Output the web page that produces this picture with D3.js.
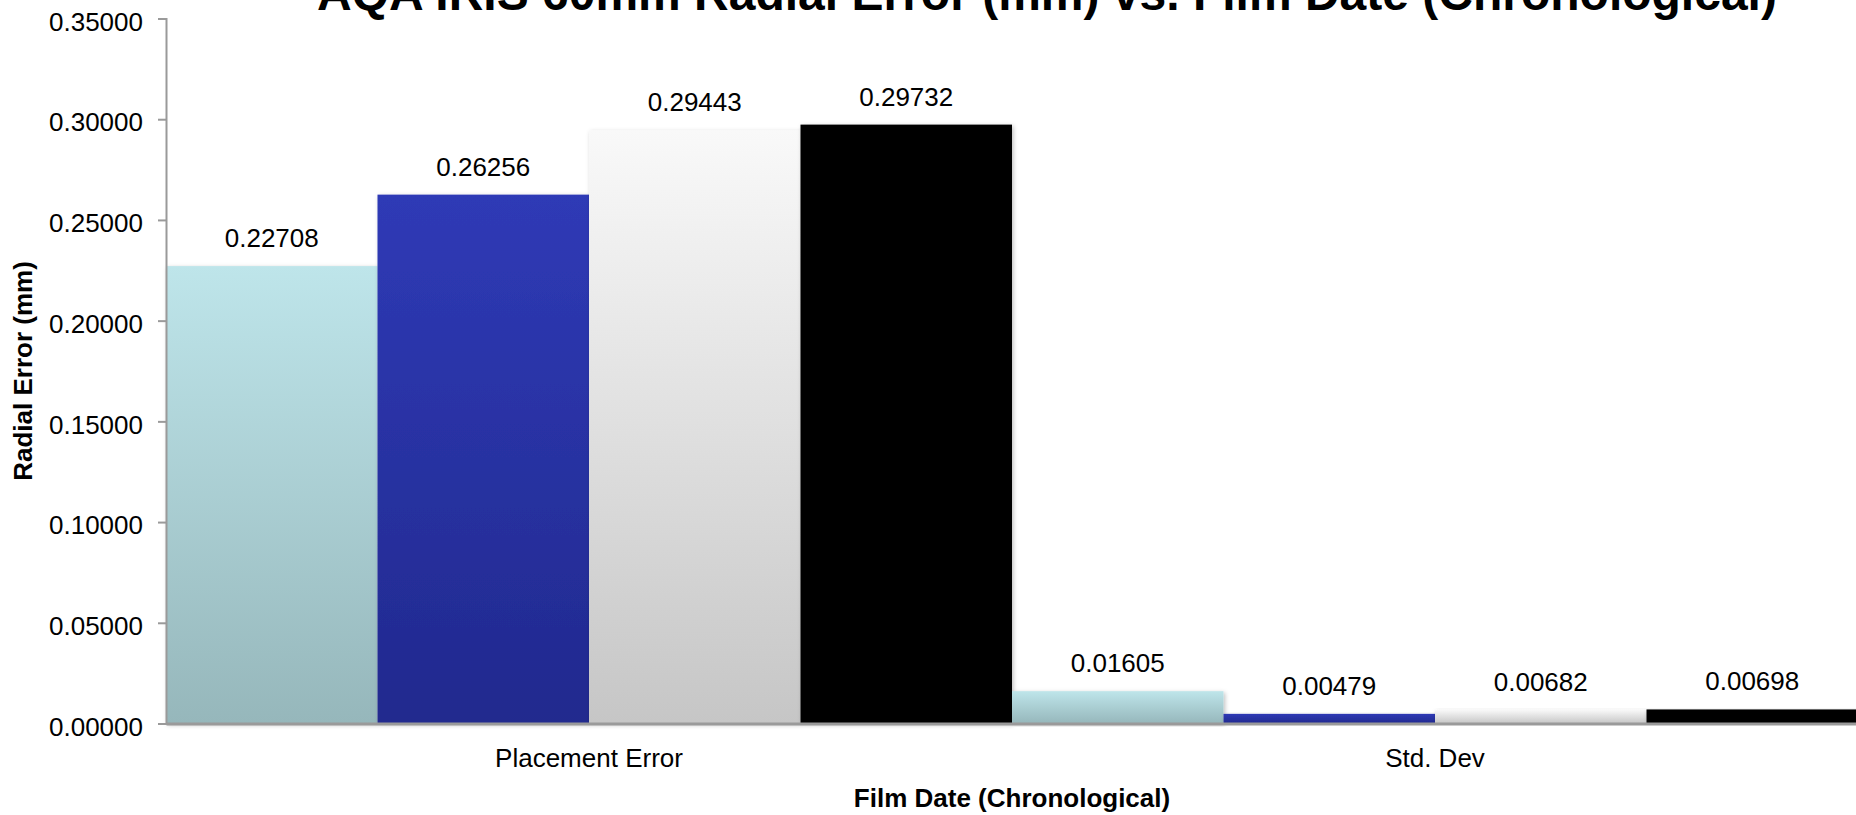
<!DOCTYPE html>
<html>
<head>
<meta charset="utf-8">
<script src="https://cdn.jsdelivr.net/npm/d3@7"></script>
<style>
  html, body { margin: 0; padding: 0; background: #fff; overflow: hidden; }
  svg { display: block; font-family: "Liberation Sans", Arial, Helvetica, sans-serif; }
</style>
</head>
<body>
<svg id="chart" width="1856" height="815"></svg>
<script>
// Categories along the x axis
const categories = ["Placement Error", "Std. Dev"];

// One series per film, in chronological order
const seriesKeys = ["film1", "film2", "film3", "film4"];
const film1 = [0.22708, 0.01605];
const film2 = [0.26256, 0.00479];
const film3 = [0.29443, 0.00682];
const film4 = [0.29732, 0.00698];
const seriesValues = [film1, film2, film3, film4];

// Y axis ticks
const yTicks = [0, 0.05, 0.10, 0.15, 0.20, 0.25, 0.30, 0.35];

const titleText = "AQA IRIS 60mm Radial Error (mm) vs. Film Date (Chronological)";
const xTitleText = "Film Date (Chronological)";
const yTitleText = "Radial Error (mm)";

// Fill styles for each series (top colour, bottom colour of a vertical gradient)
const fills = [
  ["#bee5ea", "#96b7bb"],
  ["#2f3ab6", "#21298e"],
  ["#f9f9f9", "#c6c6c6"],
  ["#000000", "#000000"]
];

const svg = d3.select("#chart");
const plot = { left: 166, right: 1858, top: 18.5, bottom: 723.5 };

const x0 = d3.scaleBand().domain(categories).range([plot.left, plot.right]).paddingInner(0).paddingOuter(0);
const x1 = d3.scaleBand().domain(seriesKeys).range([0, x0.bandwidth()]).padding(0);
const y = d3.scaleLinear().domain([0, 0.35]).range([plot.bottom, plot.top]);

const defs = svg.append("defs");
fills.forEach((f, i) => {
  const g = defs.append("linearGradient")
    .attr("id", "grad" + i)
    .attr("x1", 0).attr("y1", 0).attr("x2", 0).attr("y2", 1);
  g.append("stop").attr("offset", "0%").attr("stop-color", f[0]);
  g.append("stop").attr("offset", "100%").attr("stop-color", f[1]);
});
const shadow = defs.append("filter").attr("id", "barShadow")
  .attr("x", "-10%").attr("y", "-10%").attr("width", "120%").attr("height", "120%");
shadow.append("feDropShadow")
  .attr("dx", 1.5).attr("dy", 1.5).attr("stdDeviation", 2)
  .attr("flood-color", "#000").attr("flood-opacity", 0.25);

// Title
svg.append("text")
  .attr("x", 1047).attr("y", 10)
  .attr("text-anchor", "middle")
  .attr("font-size", 48).attr("font-weight", "bold").attr("fill", "#000")
  .text(titleText);

// Bars
const rows = categories.map((c, ci) => ({
  category: c,
  values: seriesKeys.map((k, si) => ({ key: k, si, value: seriesValues[si][ci] }))
}));

const groups = svg.append("g").selectAll("g.group")
  .data(rows).join("g")
  .attr("class", "group")
  .attr("transform", d => `translate(${x0(d.category)},0)`);

groups.selectAll("rect")
  .data(d => d.values).join("rect")
  .attr("x", d => x1(d.key))
  .attr("y", d => y(d.value))
  .attr("width", x1.bandwidth())
  .attr("height", d => y(0) - y(d.value))
  .attr("fill", d => `url(#grad${d.si})`)
  .attr("filter", "url(#barShadow)");

// Value labels above bars
const fmt = d3.format(".5f");
groups.selectAll("text.value")
  .data(d => d.values).join("text")
  .attr("class", "value")
  .attr("x", d => x1(d.key) + x1.bandwidth() / 2)
  .attr("y", d => y(d.value) - 19)
  .attr("text-anchor", "middle")
  .attr("font-size", 26).attr("fill", "#000")
  .text(d => fmt(d.value));

// Y axis
const yAxis = svg.append("g")
  .attr("transform", `translate(${plot.left},0)`)
  .call(d3.axisLeft(y).tickValues(yTicks).tickFormat(d3.format(".5f")).tickSize(8).tickPadding(15));
yAxis.select(".domain").attr("stroke", "#9a9a9a").attr("stroke-width", 2);
yAxis.selectAll(".tick line").attr("stroke", "#9a9a9a").attr("stroke-width", 2);
yAxis.selectAll(".tick text")
  .attr("font-size", 26).attr("font-family", "Liberation Sans, Arial, sans-serif")
  .attr("fill", "#000").attr("dy", "0.45em");

// X axis baseline
const xAxis = svg.append("g")
  .attr("transform", `translate(0,${plot.bottom})`)
  .call(d3.axisBottom(x0).tickSize(0).tickPadding(0));
xAxis.select(".domain").attr("stroke", "#9a9a9a").attr("stroke-width", 3);
xAxis.selectAll(".tick text")
  .attr("font-size", 26).attr("font-family", "Liberation Sans, Arial, sans-serif")
  .attr("fill", "#000")
  .attr("y", 766.7 - plot.bottom).attr("dy", 0);

// Axis titles
svg.append("text")
  .attr("x", (plot.left + plot.right) / 2).attr("y", 806.7)
  .attr("text-anchor", "middle")
  .attr("font-size", 26).attr("font-weight", "bold").attr("fill", "#000")
  .text(xTitleText);

svg.append("text")
  .attr("transform", `translate(31.5,${(plot.top + plot.bottom) / 2}) rotate(-90)`)
  .attr("text-anchor", "middle")
  .attr("font-size", 26).attr("font-weight", "bold").attr("fill", "#000")
  .text(yTitleText);
</script>
</body>
</html>
